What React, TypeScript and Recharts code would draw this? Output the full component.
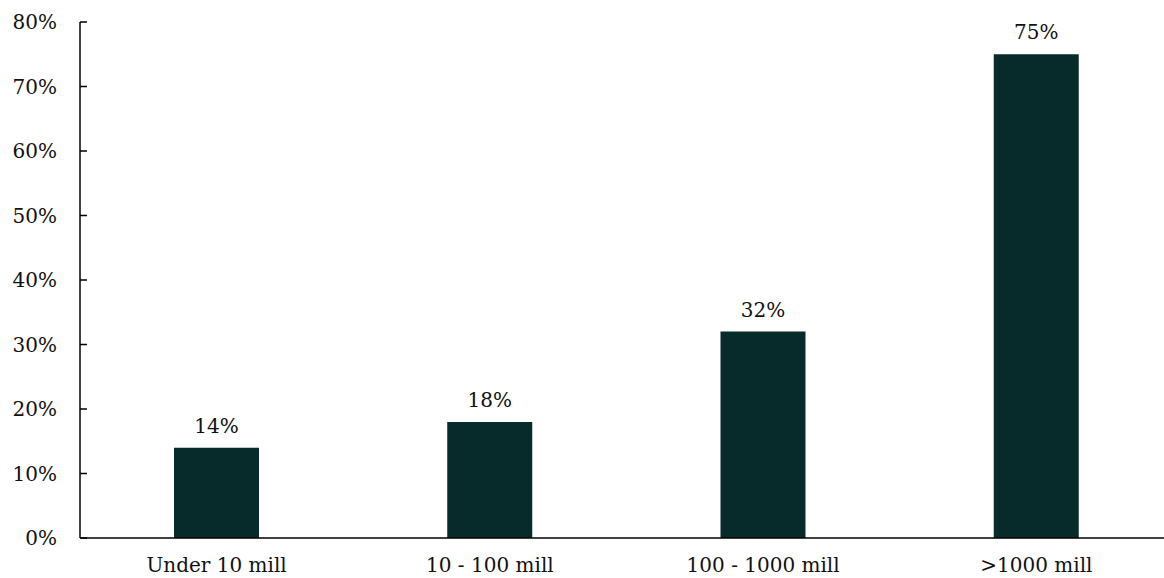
import { BarChart, Bar, XAxis, YAxis, LabelList } from 'recharts';

const categories = ['Under 10 mill', '10 - 100 mill', '100 - 1000 mill', '>1000 mill'];
const shares = [14, 18, 32, 75];
const yTicks = [0, 10, 20, 30, 40, 50, 60, 70, 80];

const rows = categories.map((name, i) => ({ name, share: shares[i] }));

const FONT = '"DejaVu Serif", serif';
const INK = '#111';

export default function App() {
  return (
    <div style={{ position: 'absolute', left: 0, top: 0, width: 1164, height: 578, overflow: 'hidden', background: '#fff' }}>
      <BarChart
        width={1180}
        height={578}
        data={rows}
        margin={{ top: 22, right: 7, bottom: 0, left: 0 }}
      >
        <XAxis
          dataKey="name"
          height={40}
          tickLine={false}
          tickSize={0}
          tickMargin={20}
          axisLine={{ stroke: '#000', strokeWidth: 1.5 }}
          tick={{ fill: INK, fontSize: 20, fontFamily: FONT }}
        />
        <YAxis
          width={80}
          domain={[0, 80]}
          ticks={yTicks}
          interval={0}
          tickFormatter={(v: number) => `${v}%`}
          tickSize={-7}
          tickMargin={30}
          axisLine={{ stroke: '#000', strokeWidth: 1.5 }}
          tickLine={{ stroke: '#000', strokeWidth: 1.5 }}
          tick={{ fill: INK, fontSize: 20, fontFamily: FONT }}
        />
        <Bar dataKey="share" fill="#072a2b" barSize={85} isAnimationActive={false}>
          <LabelList
            dataKey="share"
            position="top"
            offset={15}
            formatter={(v: number) => `${v}%`}
            style={{ fill: INK, fontSize: 20, fontFamily: FONT }}
          />
        </Bar>
      </BarChart>
    </div>
  );
}
